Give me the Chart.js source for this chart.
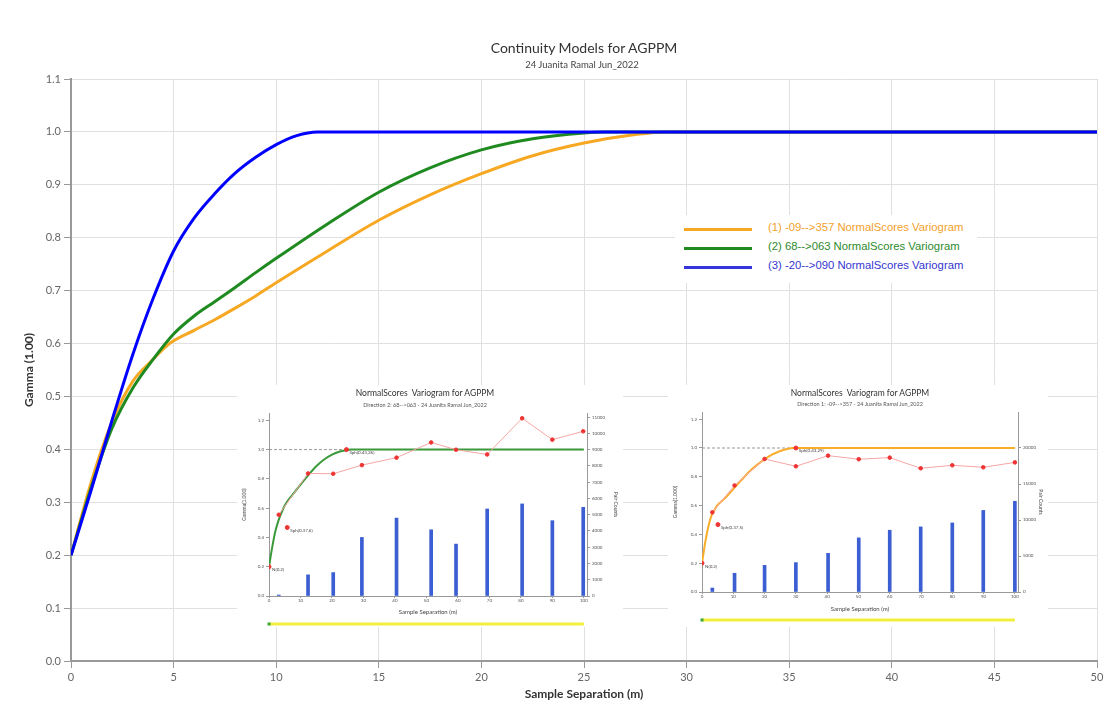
<!DOCTYPE html>
<html>
<head>
<meta charset="utf-8">
<script src="https://cdn.jsdelivr.net/npm/chart.js@4.4.1/dist/chart.umd.min.js"></script>
<style>
  html, body { margin: 0; padding: 0; background: #fff; }
  #wrap { position: relative; width: 1112px; height: 709px; overflow: hidden; font-family: Lato, 'Open Sans', sans-serif; }
  #main { position: absolute; left: 0; top: 0; }
  .txt { position: absolute; white-space: nowrap; transform: translate(-50%, -50%); color: #333; }
  .inset { position: absolute; background: #fff; }
  .inset canvas { position: absolute; left: 0; top: 0; }
  #legend { position: absolute; left: 675px; top: 215px; width: 302px; height: 68px; background: #fff;
            font-family: 'Liberation Sans', Arial, sans-serif; font-size: 11.3px; }
  .lg { position: absolute; left: 9px; width: 68px; height: 0; border-top: 3px solid; }
  .lt { position: absolute; left: 93px; white-space: nowrap; }
</style>
</head>
<body>
<div id="wrap">
  <canvas id="main" width="1112" height="709"></canvas>
  <div class="txt" style="left:584px; top:47px; font-size:14px;">Continuity Models for AGPPM</div>
  <div class="txt" style="left:582px; top:64px; font-size:9.5px; color:#444;">24 Juanita Ramal Jun_2022</div>

  <div id="legend">
    <div class="lg" style="top:13px; border-color:#f7a823;"></div>
    <div class="lt" style="top:6px; color:#f2a12a;">(1) -09--&gt;357 NormalScores Variogram</div>
    <div class="lg" style="top:32px; border-color:#1f8a1f;"></div>
    <div class="lt" style="top:25px; color:#2d8a2d;">(2) 68--&gt;063 NormalScores Variogram</div>
    <div class="lg" style="top:51px; border-color:#3535d8;"></div>
    <div class="lt" style="top:44px; color:#3535d0;">(3) -20--&gt;090 NormalScores Variogram</div>
  </div>

  <div class="inset" style="left:237px; top:385px; width:386px; height:242px;">
    <canvas id="inset1" width="386" height="242"></canvas>
    <div class="txt" style="left:188px; top:8px; font-size:8.5px;">NormalScores&nbsp; Variogram for AGPPM</div>
    <div class="txt" style="left:188px; top:20px; font-size:5.5px; color:#555;">Direction 2: 68--&gt;063 - 24 Juanita Ramal Jun_2022</div>
  </div>

  <div class="inset" style="left:668px; top:385px; width:380px; height:242px;">
    <canvas id="inset2" width="380" height="242"></canvas>
    <div class="txt" style="left:192px; top:8px; font-size:8.5px;">NormalScores&nbsp; Variogram for AGPPM</div>
    <div class="txt" style="left:192px; top:19px; font-size:5.5px; color:#555;">Direction 1: -09--&gt;357 - 24 Juanita Ramal Jun_2022</div>
  </div>
</div>

<script>
// ---- main chart: model curves (lag in m, gamma) ----
const orangeX = [0, 1, 2, 3, 4, 4.8, 6, 7, 8, 9, 10, 12.5, 15, 17.5, 20, 22.5, 25, 27.5, 29, 50];
const orangeY = [0.2, 0.34, 0.452, 0.528, 0.57, 0.6, 0.625, 0.645, 0.667, 0.69, 0.715, 0.775, 0.833, 0.881, 0.921, 0.955, 0.979, 0.995, 1.0, 1.0];

const greenX = [0, 1, 2, 3, 4, 5, 6, 7, 8, 9, 10, 12.5, 15, 17.5, 20, 22.5, 25, 26, 50];
const greenY = [0.2, 0.33, 0.44, 0.515, 0.57, 0.618, 0.652, 0.679, 0.706, 0.734, 0.761, 0.826, 0.886, 0.932, 0.966, 0.987, 0.998, 1.0, 1.0];

const blueX = [0, 1, 2, 3, 4, 5, 6, 7, 8, 9, 10, 11, 12, 50];
const blueY = [0.2, 0.325, 0.455, 0.578, 0.685, 0.775, 0.837, 0.883, 0.922, 0.952, 0.976, 0.993, 1.0, 1.0];

// ---- inset 1: direction 2 (68-->063) ----
const lag1 = [3.1, 12.4, 20.4, 29.5, 40.5, 51.5, 59.4, 69.3, 80.4, 90, 99.8];
const gam1 = [0.555, 0.837, 0.835, 0.894, 0.945, 1.049, 0.999, 0.967, 1.214, 1.068, 1.125];
const pairs1 = [60, 1300, 1440, 3600, 4790, 4070, 3190, 5350, 5660, 4630, 5450];
const markX1 = [0, 5.8, 24.6];
const markY1 = [0.2, 0.468, 1.0];
const markText1 = ['N(0.2)', 'Sph(0.37,6)', 'Sph(0.43,26)'];
const pairTicks1 = [0, 1000, 2000, 3000, 4000, 5000, 6000, 7000, 8000, 9000, 10000, 11000];

// ---- inset 2: direction 1 (-09-->357) ----
const lag2 = [3.3, 10.4, 20, 30, 40.3, 50.1, 60, 69.9, 80, 89.9, 100];
const gam2 = [0.553, 0.74, 0.924, 0.873, 0.947, 0.922, 0.933, 0.859, 0.88, 0.866, 0.9];
const pairs2 = [550, 2600, 3700, 4080, 5370, 7520, 8580, 9040, 9590, 11330, 12600];
const markX2 = [0, 5.1, 30];
const markY2 = [0.2, 0.468, 1.0];
const markText2 = ['N(0.2)', 'Sph(0.37,5)', 'Sph(0.43,29)'];
const pairTicks2 = [0, 5000, 10000, 15000, 20000];

// shared inset axes
const lagTicks = [0, 10, 20, 30, 40, 50, 60, 70, 80, 90, 100];
const gammaTicks = [0, 0.2, 0.4, 0.6, 0.8, 1.0, 1.2];
const sillX = [0, 100];
const sillY = [1.0, 1.0];

Chart.defaults.font.family = "Lato, 'Open Sans', sans-serif";

function pts(xs, ys) {
    return xs.map((x, i) => ({ x: x, y: ys[i] }));
}

function fixedTicks(values) {
    return s => { s.ticks = values.map(v => ({ value: v })); };
}

function modelLine(xs, ys, color, order) {
    return {
        data: pts(xs, ys),
        borderColor: color,
        borderWidth: 3,
        pointRadius: 0,
        cubicInterpolationMode: 'monotone',
        order: order
    };
}

new Chart(document.getElementById('main'), {
    type: 'line',
    data: {
        datasets: [
            modelLine(blueX, blueY, '#0000ff', 0),
            modelLine(greenX, greenY, '#1f8a1f', 1),
            modelLine(orangeX, orangeY, '#f7a823', 2)
        ]
    },
    options: {
        responsive: false,
        animation: false,
        layout: { padding: { left: 18, right: 15, top: 79, bottom: 4 } },
        plugins: { legend: { display: false }, tooltip: { enabled: false } },
        scales: {
            x: {
                type: 'linear', min: 0, max: 50,
                ticks: { stepSize: 5, color: '#666', font: { size: 11 }, padding: 3 },
                grid: { color: '#e0e0e0', tickColor: '#999', tickLength: 7 },
                border: { color: '#999', width: 2 },
                title: { display: true, text: 'Sample Separation (m)', color: '#333', font: { size: 12, weight: 'bold' } },
                afterFit: s => { s.height = 44; }
            },
            y: {
                min: 0, max: 1.1,
                ticks: { stepSize: 0.1, color: '#666', font: { size: 11 }, padding: 3, callback: v => v.toFixed(1) },
                grid: { color: '#e0e0e0', tickColor: '#999', tickLength: 7 },
                border: { color: '#999', width: 2 },
                title: { display: true, text: 'Gamma (1.00)', color: '#333', font: { size: 12, weight: 'bold' } },
                afterFit: s => { s.width = 53; }
            }
        }
    }
});

// labels next to the model markers + the yellow slider under each inset
const insetDecor = {
    id: 'insetDecor',
    afterDatasetsDraw(chart, args, opts) {
        const ctx = chart.ctx, xs = chart.scales.x, ys = chart.scales.y;
        ctx.save();
        ctx.font = '4.5px Lato';
        ctx.fillStyle = '#444';
        ctx.textBaseline = 'middle';
        opts.markX.forEach((mx, i) => {
            ctx.fillText(opts.markText[i], xs.getPixelForValue(mx) + 3, ys.getPixelForValue(opts.markY[i]) + 3);
        });
        const yb = chart.chartArea.bottom + 28;
        const x0 = xs.getPixelForValue(sillX[0]), x1 = xs.getPixelForValue(sillX[1]);
        ctx.strokeStyle = '#f1ef3c';
        ctx.lineWidth = 3;
        ctx.beginPath();
        ctx.moveTo(x0, yb);
        ctx.lineTo(x1, yb);
        ctx.stroke();
        ctx.fillStyle = '#3aa63a';
        ctx.fillRect(x0 - 1.5, yb - 1.5, 3, 3);
        ctx.restore();
    }
};

function makeInset(id, cfg) {
    const tickFont = { size: 4.5 };
    new Chart(document.getElementById(id), {
        type: 'line',
        data: {
            datasets: [
                {
                    data: pts(cfg.markX, cfg.markY), showLine: false,
                    pointRadius: 2, pointBackgroundColor: '#e33', pointBorderColor: '#e33', order: 0
                },
                {
                    data: pts(cfg.modelX, cfg.modelY).concat([{ x: sillX[1], y: sillY[1] }]),
                    borderColor: cfg.modelColor, borderWidth: 2, pointRadius: 0,
                    cubicInterpolationMode: 'monotone', order: 2
                },
                {
                    data: pts(sillX, sillY), borderColor: '#999', borderWidth: 1,
                    borderDash: [3, 2], pointRadius: 0, order: 3
                },
                {
                    data: pts(cfg.lag, cfg.gam), borderColor: '#f6a5a5', borderWidth: 1,
                    pointRadius: 1.8, pointBackgroundColor: '#e33', pointBorderColor: '#e33', order: 1
                },
                {
                    type: 'bar', data: pts(cfg.lag, cfg.pairs), yAxisID: 'y2',
                    backgroundColor: '#3b5ed2', barThickness: 3, order: 4
                }
            ]
        },
        options: {
            responsive: false,
            animation: false,
            layout: { padding: cfg.padding },
            plugins: {
                legend: { display: false }, tooltip: { enabled: false },
                insetDecor: { markX: cfg.markX, markY: cfg.markY, markText: cfg.markText }
            },
            scales: {
                x: {
                    type: 'linear', min: 0, max: 101, offset: false,
                    afterBuildTicks: fixedTicks(lagTicks),
                    ticks: { autoSkip: false, maxRotation: 0, font: tickFont, color: '#555', padding: 0 },
                    grid: { drawOnChartArea: false, offset: false, tickLength: 2, tickColor: '#999' },
                    border: { color: '#999' },
                    title: { display: true, text: 'Sample Separation (m)', font: { size: 6 }, color: '#444', padding: 2 },
                    afterFit: s => { s.height = cfg.xh; }
                },
                y: {
                    min: 0, max: 1.25,
                    afterBuildTicks: fixedTicks(gammaTicks),
                    ticks: { autoSkip: false, font: tickFont, color: '#555', padding: 2, callback: v => v.toFixed(1) },
                    grid: { drawOnChartArea: false, tickLength: 3, tickColor: '#999' },
                    border: { color: '#999' },
                    title: { display: true, text: 'Gamma(1.000)', font: { size: 5 }, color: '#444', padding: 2 },
                    afterFit: s => { s.width = cfg.yw; }
                },
                y2: {
                    position: 'right', min: 0, max: cfg.pairMax,
                    afterBuildTicks: fixedTicks(cfg.pairTicks),
                    ticks: { autoSkip: false, font: tickFont, color: '#555', padding: 2, callback: v => String(v) },
                    grid: { drawOnChartArea: false, tickLength: 3, tickColor: '#999' },
                    border: { color: '#999' },
                    title: { display: true, text: 'Pair Counts', font: { size: 5 }, color: '#444', padding: 2 },
                    afterFit: s => { s.width = cfg.y2w; }
                }
            }
        },
        plugins: [insetDecor]
    });
}

makeInset('inset1', {
    lag: lag1, gam: gam1, pairs: pairs1,
    markX: markX1, markY: markY1, markText: markText1,
    modelX: greenX.slice(0, -1), modelY: greenY.slice(0, -1), modelColor: '#3a9a3a',
    pairMax: 11250, pairTicks: pairTicks1,
    padding: { left: 2, right: 2, top: 28, bottom: 9 }, yw: 30, y2w: 34, xh: 22
});

makeInset('inset2', {
    lag: lag2, gam: gam2, pairs: pairs2,
    markX: markX2, markY: markY2, markText: markText2,
    modelX: orangeX.slice(0, -1), modelY: orangeY.slice(0, -1), modelColor: '#f9ad2a',
    pairMax: 25000, pairTicks: pairTicks2,
    padding: { left: 2, right: 2, top: 27, bottom: 12 }, yw: 32, y2w: 28, xh: 23
});
</script>
</body>
</html>
